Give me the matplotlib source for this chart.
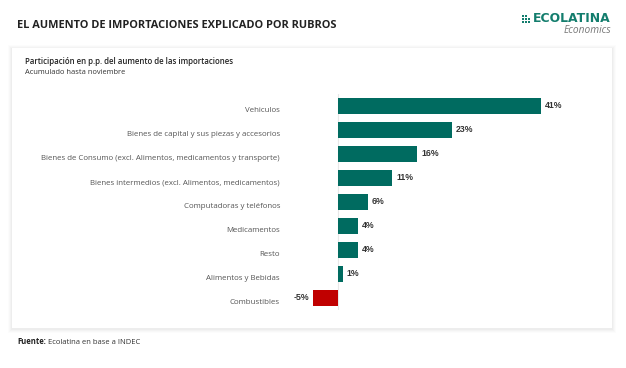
import numpy as np
import matplotlib.pyplot as plt
from matplotlib.patches import Rectangle

#-------------- Datos --------------
rubros = ["Vehiculos",
          "Bienes de capital y sus piezas y accesorios",
          "Bienes de Consumo (excl. Alimentos, medicamentos y transporte)",
          "Bienes intermedios (excl. Alimentos, medicamentos)",
          "Computadoras y teléfonos",
          "Medicamentos",
          "Resto",
          "Alimentos y Bebidas",
          "Combustibles"]
valores = [41, 23, 16, 11, 6, 4, 4, 1, -5]
#-----------------------------------

W, H = 626, 368
TEAL = "#006b60"
RED = "#c00000"
LOGO = "#137d6d"

def fx(px):
    return px / W

def fy(py):
    return 1 - py / H

fig = plt.figure(figsize=(W / 100, H / 100), dpi=100)
fig.patch.set_facecolor("white")
rend = fig.canvas.get_renderer()

# tarjeta blanca con sombra
for i, a in enumerate([0.025, 0.02, 0.015, 0.01]):
    d = i + 1
    fig.patches.append(Rectangle((fx(12 - d), fy(328 + d + 1)), fx(600 + 2 * d), (280 + 2 * d) / H,
                                 transform=fig.transFigure, facecolor="black", alpha=a,
                                 edgecolor="none", zorder=0))
fig.patches.append(Rectangle((fx(12), fy(328)), fx(600), 280 / H, transform=fig.transFigure,
                             facecolor="white", edgecolor="none", zorder=1))

# titulo
fig.text(fx(17), fy(26), "EL AUMENTO DE IMPORTACIONES EXPLICADO POR RUBROS",
         fontsize=7.9, fontweight="bold", color="#222222", family="Open Sans", va="center")

# logo
logo = fig.text(fx(611), fy(18.7), "ECOLATINA", fontsize=8.9, fontweight="bold", color=LOGO,
                family="DejaVu Sans", ha="right", va="center")
bb = logo.get_window_extent(rend)
ix = bb.x0 - 11
for r in range(3):
    for c in range(3):
        if r == 0 and c == 2:
            continue
        fig.patches.append(Rectangle((fx(ix + c * 3), fy(15.2 + r * 2.9 + 1.9)), fx(1.9), 1.9 / H,
                                     transform=fig.transFigure, facecolor=LOGO,
                                     edgecolor="none", zorder=2))
fig.text(fx(611), fy(30.5), "Economics", fontsize=7.3, style="italic", color="#777777",
         family="Open Sans", ha="right", va="center")

fig.text(fx(25), fy(61), "Participación en p.p. del aumento de las importaciones",
         fontsize=5.7, fontweight="semibold", color="#222222", family="Open Sans", va="center")
fig.text(fx(25), fy(73), "Acumulado hasta noviembre",
         fontsize=5.4, color="#333333", family="Open Sans", va="center")

fu = fig.text(fx(17), fy(342), "Fuente:", fontsize=5.5, fontweight="bold", color="#222222",
              family="Open Sans", va="center")
bb = fu.get_window_extent(rend)
fig.text(fx(bb.x1 + 2.5), fy(342), "Ecolatina en base a INDEC", fontsize=5.5, color="#333333",
         family="Open Sans", va="center")

# grafico de barras
ppu = 203 / 41
x0 = 338
left, right = 300, 580
top, bottom = 93.7, 310
ax = fig.add_axes([fx(left), fy(bottom), fx(right - left), (bottom - top) / H], zorder=3)
ax.set_facecolor("none")
y = np.arange(len(rubros))
colores = [TEAL if v >= 0 else RED for v in valores]
ax.barh(y, valores, height=0.67, color=colores, zorder=3)
ax.set_xlim(-(x0 - left) / ppu, (right - x0) / ppu)
ax.set_ylim(len(rubros) - 0.5, -0.5)
ax.axvline(0, color="#e8e8e8", lw=0.8, zorder=1)
for s in ax.spines.values():
    s.set_visible(False)
ax.set_xticks([])
ax.set_yticks([])

for yi, v in zip(y, valores):
    if v >= 0:
        ax.text(v + 0.8, yi, f"{v}%", ha="left", va="center", fontsize=6.3,
                fontweight="bold", color="#333333", family="Liberation Sans")
    else:
        ax.text(v - 0.8, yi, f"{v}%", ha="right", va="center", fontsize=6.3,
                fontweight="bold", color="#333333", family="Liberation Sans")

for yi, lab in zip(y, rubros):
    fig.text(fx(280), fy(top + (yi + 0.5) * (bottom - top) / len(rubros) + 5), lab,
             ha="right", va="center", fontsize=5.7, color="#555555", family="Open Sans")

fig.savefig("out.png", dpi=100)
